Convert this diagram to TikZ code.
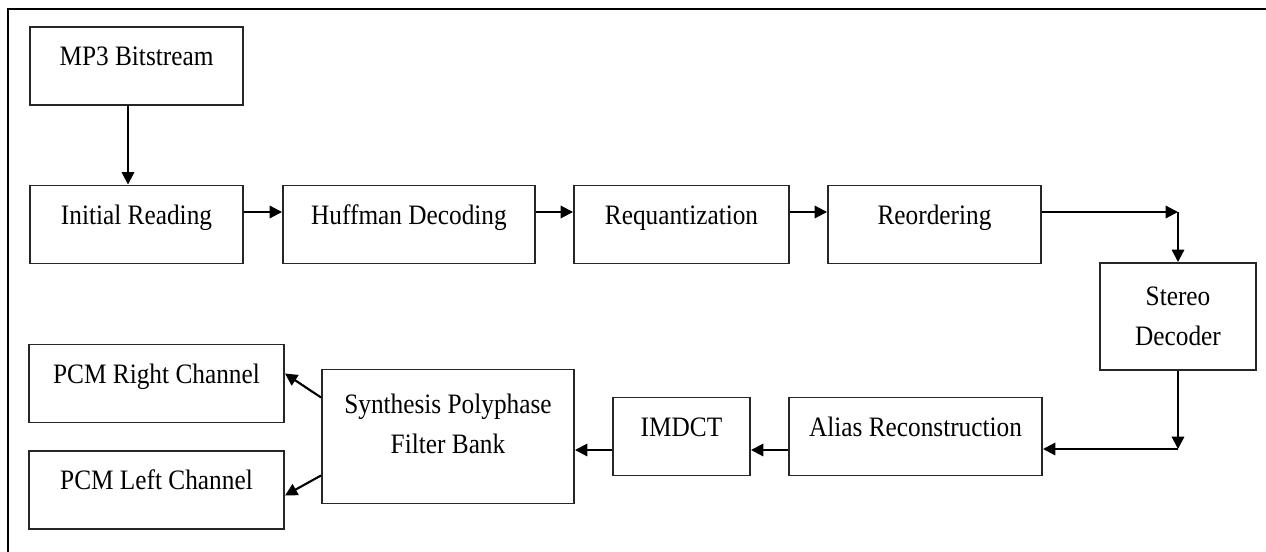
\documentclass[tikz,border=0pt]{standalone}
\usepackage{fontspec}
\setmainfont{Liberation Serif}[FakeStretch=0.9]
\usepackage{tikz}
\usetikzlibrary{arrows.meta,shapes,calc}
\usetikzlibrary{positioning}
\tikzstyle{arrow}=[draw,-{Triangle[length=7pt,width=7pt]},line width=1.2pt]
\tikzstyle{block} =
  [rectangle, draw=black!85, line width=1.1pt, font=\fontsize{16}{23}\selectfont,
   minimum width=4.26cm, minimum height=1.56cm, text height=0.4cm, text depth=0.4cm]
\tikzstyle{twoline} =
  [rectangle, draw=black!85, line width=1.1pt, font=\fontsize{16}{23}\selectfont,
   align=center]

\begin{document}
\begin{tikzpicture}[node distance = 1.5cm]
  \useasboundingbox (0,0) rectangle (25.32,-11.04);
  \draw [line width=1.6pt] (0.16,-11.2) -- (0.16,-0.18) -- (25.5,-0.18);

  \node [block] (mp3) at (2.73,-1.32) {MP3 Bitstream};
  \node [block, below of=mp3, node distance=3.17cm] (init) {Initial Reading};
  \node [block, right of=init, node distance=5.45cm, minimum width=5.04cm] (huff) {Huffman Decoding};
  \node [block, right of=huff, node distance=5.45cm, minimum width=4.30cm] (requ) {Requantization};
  \node [block, right of=requ, node distance=5.06cm] (reor) {Reordering};
  \node [twoline, right of=reor, node distance=4.87cm, yshift=-1.84cm,
    minimum width=3.12cm, minimum height=2.14cm] (stereo) {Stereo\\Decoder};

  \node [block, below of=requ, node distance=4.24cm, minimum width=2.74cm] (imdct) {IMDCT};
  \node [block, right of=imdct, node distance=4.68cm, minimum width=5.06cm] (alias) {Alias Reconstruction};
  \node [twoline, left of=imdct, node distance=4.67cm, minimum width=5.04cm,
    minimum height=2.68cm, text height=1.2cm, text depth=0.52cm] (synth) {Synthesis Polyphase\\Filter Bank};
  \node [block, left of=synth, node distance=5.83cm, yshift=1.06cm, minimum width=5.10cm] (pcmr) {PCM Right Channel};
  \node [block, below of=pcmr, node distance=2.13cm, minimum width=5.10cm] (pcml) {PCM Left Channel};

  \coordinate (c1) at ([yshift=0.25cm]reor.east -| stereo.north);
  \coordinate (c2) at ([yshift=-0.25cm]alias.east -| stereo.south);

  \draw [arrow] ([xshift=-0.17cm]mp3.south) -- ([xshift=-0.17cm]init.north);
  \draw [arrow] ([yshift=0.25cm]init.east) -- ([yshift=0.25cm]huff.west);
  \draw [arrow] ([yshift=0.25cm]huff.east) -- ([yshift=0.25cm]requ.west);
  \draw [arrow] ([yshift=0.25cm]requ.east) -- ([yshift=0.25cm]reor.west);
  \draw [arrow] ([yshift=0.25cm]reor.east) -- (c1);
  \draw [arrow] (c1) -- (stereo.north);
  \draw [arrow] (stereo.south) -- (c2);
  \draw [arrow] (c2) -- ([yshift=-0.25cm]alias.east);
  \draw [arrow] ([yshift=-0.27cm]alias.west) -- ([yshift=-0.27cm]imdct.east);
  \draw [arrow] ([yshift=-0.27cm]imdct.west) -- ([yshift=-0.27cm]imdct.west -| synth.east);
  \draw [arrow] ([yshift=0.78cm]synth.west) -- ([yshift=0.2cm]pcmr.east);
  \draw [arrow] ([yshift=-0.78cm]synth.west) -- ([yshift=-0.11cm]pcml.east);
\end{tikzpicture}
\end{document}
